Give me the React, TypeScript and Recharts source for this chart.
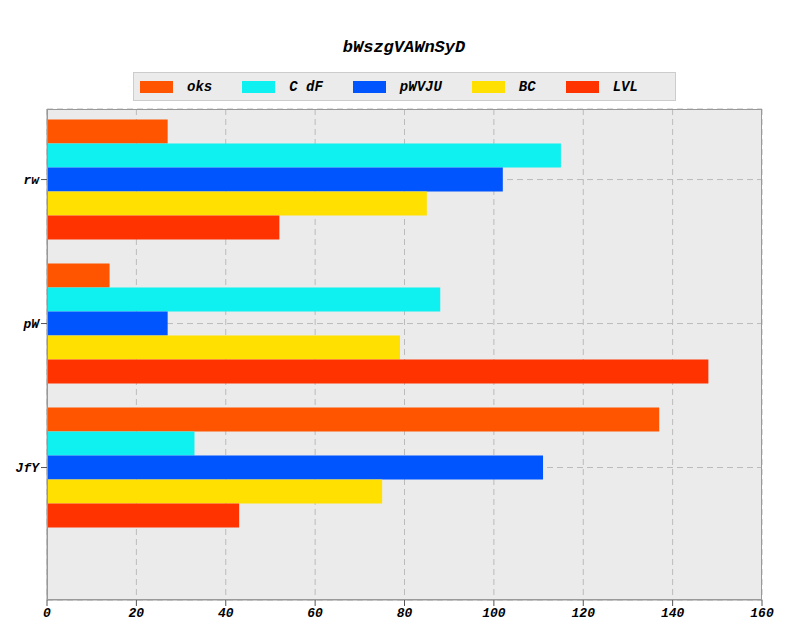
import { BarChart, Bar, XAxis, YAxis, CartesianGrid } from 'recharts'

const categories = ['rw', 'pW', 'JfY']
const seriesNames = ['oks', 'C dF', 'pWVJU', 'BC', 'LVL']
const colors = ['#FF5500', '#0FF0F0', '#0055FF', '#FFE000', '#FF3300']
const oks = [27, 14, 137]
const cdf = [115, 88, 33]
const pwvju = [102, 27, 111]
const bc = [85, 79, 75]
const lvl = [52, 148, 43]
const xTicks = [0, 20, 40, 60, 80, 100, 120, 140, 160]

const data = categories.map((name, i) => ({
    pos: i,
    name,
    s0: oks[i],
    s1: cdf[i],
    s2: pwvju[i],
    s3: bc[i],
    s4: lvl[i],
}))

const font = '"Liberation Mono", "DejaVu Sans Mono", monospace'
const tickStyle = { fill: '#000', fontSize: 13, fontFamily: font, fontWeight: 'bold', fontStyle: 'italic' }

export default function App() {
    return (
        <div style={{ position: 'absolute', left: 0, top: 0, width: 790, height: 632, background: '#fff', fontFamily: font }}>
            <div style={{ position: 'absolute', top: 38, left: 0, width: 808, textAlign: 'center', fontSize: 17, fontWeight: 'bold', fontStyle: 'italic' }}>
                bWszgVAWnSyD
            </div>
            <div style={{ position: 'absolute', left: 133, top: 72, width: 543, height: 29, border: '1px solid #ccc', background: '#ebebeb', display: 'flex', alignItems: 'center', fontSize: 14, fontWeight: 'bold', fontStyle: 'italic', boxSizing: 'border-box', paddingLeft: 6 }}>
                {seriesNames.map((n, i) => (
                    <div key={n} style={{ display: 'flex', alignItems: 'center', marginRight: 30 }}>
                        <span style={{ display: 'inline-block', width: 33, height: 12, background: colors[i], marginRight: 14 }} />
                        <span style={{ whiteSpace: 'pre' }}>{n}</span>
                    </div>
                ))}
            </div>
            <BarChart
                width={790}
                height={632}
                data={data}
                layout="vertical"
                margin={{ top: 109, right: 28, bottom: 8, left: 0 }}
                barGap={0}
                barSize={24}
            >
                <CartesianGrid stroke="#bbb" strokeDasharray="6 4" fill="#EBEBEB" />
                <XAxis
                    type="number"
                    domain={[0, 160]}
                    ticks={xTicks}
                    height={24}
                    tick={tickStyle}
                    axisLine={{ stroke: '#999' }}
                    tickLine={{ stroke: '#555' }}
                />
                <YAxis
                    type="number"
                    dataKey="pos"
                    domain={[-0.49, 2.92]}
                    ticks={[0, 1, 2]}
                    tickFormatter={(v) => categories[v] ?? ''}
                    width={47}
                    tick={tickStyle}
                    axisLine={{ stroke: '#999' }}
                    tickLine={{ stroke: '#555' }}
                />
                {seriesNames.map((n, i) => (
                    <Bar key={n} dataKey={'s' + i} name={n} fill={colors[i]} isAnimationActive={false} />
                ))}
            </BarChart>
            <div style={{ position: 'absolute', left: 47, top: 109, width: 715, height: 491, border: '1px solid #999', boxSizing: 'border-box', pointerEvents: 'none' }} />
        </div>
    )
}
